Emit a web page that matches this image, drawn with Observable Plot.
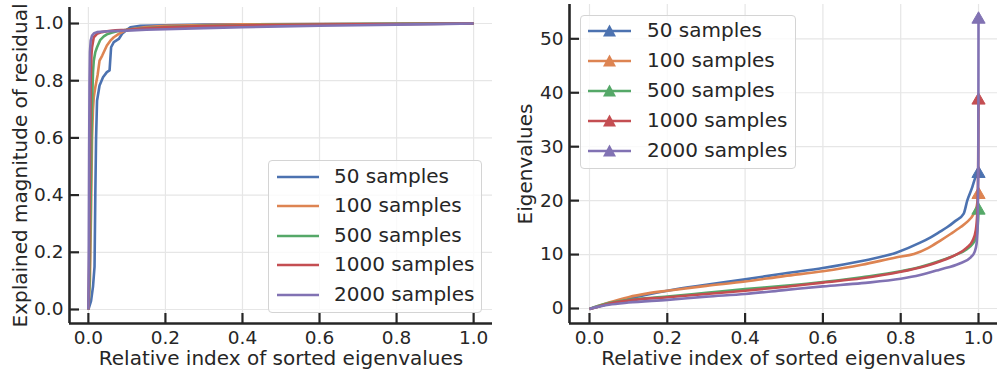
<!DOCTYPE html>
<html><head><meta charset="utf-8">
<script src="https://cdn.jsdelivr.net/npm/d3@7"></script>
<script src="https://cdn.jsdelivr.net/npm/@observablehq/plot@0.6"></script>
<style>
body{margin:0;background:#fff;}
#wrap{position:relative;width:997px;height:376px;overflow:hidden;font-family:"DejaVu Sans",sans-serif;color:#262626;background:#fff;}
.panel{position:absolute;top:0;}
.legend{position:absolute;background:rgba(255,255,255,0.8);border:1px solid #d4d4d4;border-radius:4px;box-sizing:border-box;}
.row{position:absolute;left:0;height:30px;width:100%;}
.row svg{position:absolute;top:0;}
.row span{position:absolute;top:0;height:30px;line-height:30px;font-size:20px;white-space:nowrap;}
</style></head>
<body>
<div id="wrap">
  <div class="panel" id="left" style="left:0;width:500px;"></div>
  <div class="panel" id="right" style="left:500px;width:497px;"></div>
  <div class="legend" id="legL" style="left:268px;top:160px;width:214px;height:153px;"></div>
  <div class="legend" id="legR" style="left:580px;top:15px;width:216px;height:154px;"></div>
</div>
<script>
// ---------- categories / colors ----------
const seriesNames = ["50 samples", "100 samples", "500 samples", "1000 samples", "2000 samples"];
const seriesColors = ["#4c72b0", "#dd8452", "#55a868", "#c44e52", "#8172b3"];

// ---------- tick labels ----------
const xTicks = [0, 0.2, 0.4, 0.6, 0.8, 1.0];
const resTicks = [0, 0.2, 0.4, 0.6, 0.8, 1.0];
const eigTicks = [0, 10, 20, 30, 40, 50];
const xLabel = "Relative index of sorted eigenvalues";
const resLabel = "Explained magnitude of residual";
const eigLabel = "Eigenvalues";

// ---------- left panel: explained magnitude of residual ----------
const resX50 = [0, 0.007, 0.012, 0.016, 0.018, 0.02, 0.0225, 0.029, 0.038, 0.048, 0.055, 0.059, 0.066, 0.079, 0.0875, 0.1, 0.109, 0.135, 0.2, 0.3, 0.4, 0.6, 0.8, 1.0];
const resY50 = [0, 0.03, 0.08, 0.15, 0.4, 0.6, 0.73, 0.783, 0.812, 0.83, 0.836, 0.917, 0.935, 0.946, 0.964, 0.978, 0.987, 0.992, 0.994, 0.996, 0.997, 0.998, 0.999, 1.0];
const resX100 = [0, 0.004, 0.007, 0.0095, 0.012, 0.014, 0.018, 0.024, 0.029, 0.036, 0.048, 0.057, 0.066, 0.079, 0.1, 0.15, 0.2, 0.3, 0.4, 0.6, 0.8, 1.0];
const resY100 = [0, 0.1, 0.35, 0.6, 0.7, 0.742, 0.777, 0.82, 0.87, 0.888, 0.923, 0.94, 0.952, 0.964, 0.978, 0.988, 0.992, 0.995, 0.997, 0.998, 0.999, 1.0];
const resX500 = [0, 0.003, 0.006, 0.009, 0.012, 0.014, 0.018, 0.0225, 0.031, 0.04, 0.048, 0.06, 0.074, 0.1, 0.15, 0.2, 0.3, 0.4, 0.6, 0.8, 1.0];
const resY500 = [0, 0.1, 0.4, 0.7, 0.83, 0.87, 0.9, 0.917, 0.943, 0.955, 0.962, 0.968, 0.973, 0.978, 0.984, 0.988, 0.992, 0.994, 0.997, 0.999, 1.0];
const resX1000 = [0, 0.002, 0.004, 0.006, 0.008, 0.0095, 0.014, 0.0225, 0.035, 0.048, 0.07, 0.1, 0.15, 0.2, 0.3, 0.4, 0.6, 0.8, 1.0];
const resY1000 = [0, 0.15, 0.5, 0.8, 0.89, 0.917, 0.952, 0.964, 0.97, 0.973, 0.976, 0.978, 0.983, 0.987, 0.991, 0.993, 0.996, 0.998, 1.0];
const resX2000 = [0, 0.001, 0.002, 0.003, 0.004, 0.006, 0.0095, 0.015, 0.0225, 0.05, 0.1, 0.15, 0.2, 0.3, 0.4, 0.5, 0.6, 0.7, 0.8, 0.9, 1.0];
const resY2000 = [0, 0.2, 0.55, 0.8, 0.9, 0.94, 0.958, 0.966, 0.97, 0.973, 0.975, 0.978, 0.98, 0.984, 0.987, 0.99, 0.992, 0.994, 0.996, 0.998, 1.0];

// ---------- right panel: eigenvalues ----------
const eigX50 = [0, 0.02, 0.05, 0.1, 0.15, 0.2, 0.3, 0.4, 0.5, 0.6, 0.7, 0.79, 0.85, 0.877, 0.9, 0.92, 0.94, 0.962, 0.971, 0.984, 0.992, 1.0];
const eigY50 = [-0.1, 0.3, 0.9, 1.8, 2.6, 3.3, 4.4, 5.4, 6.5, 7.5, 8.8, 10.4, 12.2, 13.2, 14.2, 15.1, 16.2, 17.6, 20.0, 22.5, 24.3, 25.0];
const eigX100 = [0, 0.02, 0.05, 0.1, 0.15, 0.2, 0.3, 0.4, 0.5, 0.6, 0.7, 0.79, 0.834, 0.87, 0.902, 0.93, 0.954, 0.97, 0.988, 0.995, 1.0];
const eigY100 = [-0.1, 0.4, 1.1, 2.1, 2.8, 3.3, 4.2, 5.0, 6.0, 6.9, 8.1, 9.5, 10.1, 11.2, 12.6, 13.9, 15.1, 16.0, 17.6, 18.8, 21.1];
const eigX500 = [0, 0.02, 0.05, 0.1, 0.2, 0.3, 0.4, 0.5, 0.6, 0.7, 0.8, 0.85, 0.9, 0.94, 0.97, 0.985, 0.993, 0.997, 0.999, 1.0];
const eigY500 = [-0.1, 0.4, 1.0, 1.6, 2.2, 2.9, 3.6, 4.2, 4.9, 5.8, 6.9, 7.7, 8.8, 9.9, 11.0, 12.0, 13.0, 14.5, 16.5, 18.2];
const eigX1000 = [0, 0.02, 0.05, 0.1, 0.2, 0.3, 0.4, 0.5, 0.6, 0.7, 0.8, 0.85, 0.9, 0.94, 0.97, 0.985, 0.993, 0.997, 0.999, 1.0];
const eigY1000 = [-0.1, 0.3, 0.9, 1.5, 2.1, 2.7, 3.3, 4.0, 4.8, 5.6, 6.8, 7.6, 8.7, 9.9, 11.3, 12.6, 14.5, 18.0, 25.0, 38.6];
const eigX2000 = [0, 0.02, 0.05, 0.1, 0.2, 0.3, 0.4, 0.5, 0.6, 0.7, 0.8, 0.85, 0.9, 0.95, 0.98, 0.99, 0.995, 0.998, 0.9995, 1.0];
const eigY2000 = [-0.1, 0.3, 0.7, 1.1, 1.6, 2.2, 2.7, 3.4, 4.1, 4.7, 5.5, 6.2, 7.2, 8.3, 9.5, 10.5, 12.0, 16.0, 28.0, 53.6];

// ---------- build tables ----------
function toRows(xs, ys, name) { return xs.map((x, i) => ({x, y: ys[i], series: name})); }
const resSeries = [[resX50, resY50], [resX100, resY100], [resX500, resY500], [resX1000, resY1000], [resX2000, resY2000]]
  .map(([xs, ys], i) => toRows(xs, ys, seriesNames[i]));
const eigSeries = [[eigX50, eigY50], [eigX100, eigY100], [eigX500, eigY500], [eigX1000, eigY1000], [eigX2000, eigY2000]]
  .map(([xs, ys], i) => toRows(xs, ys, seriesNames[i]));

const INK = "#262626", GRID = "#e6e6e6";

function makePanel(opts) {
  const {width, marginLeft, marginRight, marginTop, marginBottom, xDomain, yDomain, yTicks, yFormat, series, markers, curve, yLabel, yLabelDx} = opts;
  const marks = [
    Plot.gridX({ticks: xTicks, stroke: GRID, strokeOpacity: 1, strokeWidth: 1.2}),
    Plot.gridY({ticks: yTicks, stroke: GRID, strokeOpacity: 1, strokeWidth: 1.2})
  ];
  series.forEach((rows, i) => {
    marks.push(Plot.line(rows, {x: "x", y: "y", curve, stroke: seriesColors[i], strokeWidth: 2.6, strokeLinejoin: "round", strokeLinecap: "butt"}));
    if (markers) {
      marks.push(Plot.dot([rows[rows.length - 1]], {x: "x", y: "y", symbol: "triangle", r: 4.9, fill: seriesColors[i], stroke: seriesColors[i], strokeWidth: 1}));
    }
  });
  marks.push(
    Plot.ruleY([yDomain[0]], {stroke: INK, strokeWidth: 2.6}),
    Plot.ruleX([xDomain[0]], {stroke: INK, strokeWidth: 2.6}),
    Plot.axisX({ticks: xTicks, tickSize: 10, dy: -10, tickFormat: () => "", stroke: INK, strokeWidth: 2.2, label: null}),
    Plot.axisX({ticks: xTicks, tickSize: 0, tickPadding: 7, tickFormat: d3.format(".1f"), fill: INK, fontSize: 18.5, label: null}),
    Plot.axisY({ticks: yTicks, tickSize: 10, dx: 10, tickFormat: () => "", stroke: INK, strokeWidth: 2.2, label: null}),
    Plot.axisY({ticks: yTicks, tickSize: 0, tickPadding: 6, tickFormat: yFormat, fill: INK, fontSize: 18.5, label: null}),
    Plot.text([xLabel], {frameAnchor: "bottom", dy: 35, lineAnchor: "middle", textAnchor: "middle", fontSize: 20, fill: INK}),
    Plot.text([yLabel], {frameAnchor: "left", dx: yLabelDx, rotate: -90, lineAnchor: "middle", textAnchor: "middle", fontSize: 20, fill: INK})
  );
  return Plot.plot({
    width, height: 376, marginLeft, marginRight, marginTop, marginBottom,
    x: {domain: xDomain, axis: null},
    y: {domain: yDomain, axis: null},
    style: {fontFamily: "DejaVu Sans", fontSize: "18px", color: INK, background: "white", overflow: "visible"},
    marks
  });
}

document.getElementById("left").append(makePanel({
  width: 500, marginLeft: 69, marginRight: 8, marginTop: 7, marginBottom: 53,
  xDomain: [-0.049, 1.049], yDomain: [-0.049, 1.056],
  yTicks: resTicks, yFormat: d3.format(".1f"), series: resSeries, markers: false, curve: "linear",
  yLabel: resLabel, yLabelDx: -49
}));
document.getElementById("right").append(makePanel({
  width: 497, marginLeft: 69, marginRight: 0, marginTop: 4, marginBottom: 53,
  xDomain: [-0.0514, 1.0488], yDomain: [-2.78, 56.36],
  yTicks: eigTicks, yFormat: d3.format("d"), series: eigSeries, markers: true, curve: "monotone-x",
  yLabel: eigLabel, yLabelDx: -44
}));

// ---------- legends ----------
function buildLegend(el, rowTops, lineX, lineLen, textX, withMarker) {
  seriesNames.forEach((name, i) => {
    const row = document.createElement("div");
    row.className = "row";
    row.style.top = rowTops[i] + "px";
    const ns = "http://www.w3.org/2000/svg";
    const svg = document.createElementNS(ns, "svg");
    svg.setAttribute("width", lineLen + 4); svg.setAttribute("height", 30);
    svg.style.left = (lineX - 2) + "px";
    const ln = document.createElementNS(ns, "line");
    ln.setAttribute("x1", 2); ln.setAttribute("x2", 2 + lineLen);
    ln.setAttribute("y1", 15); ln.setAttribute("y2", 15);
    ln.setAttribute("stroke", seriesColors[i]); ln.setAttribute("stroke-width", 2.6);
    svg.append(ln);
    if (withMarker) {
      const tri = document.createElementNS(ns, "path");
      const cx = 2 + lineLen / 2, cy = 15;
      tri.setAttribute("d", `M${cx},${cy - 6.5}L${cx + 6.5},${cy + 5.5}L${cx - 6.5},${cy + 5.5}Z`);
      tri.setAttribute("fill", seriesColors[i]);
      svg.append(tri);
    }
    row.append(svg);
    const sp = document.createElement("span");
    sp.textContent = name;
    sp.style.left = textX + "px";
    sp.style.top = "-1px";
    row.append(sp);
    el.append(row);
  });
}
buildLegend(document.getElementById("legL"), [0.5, 30, 59.5, 89, 118.5], 8, 42, 65, false);
buildLegend(document.getElementById("legR"), [0, 30, 60, 90, 120], 7, 43, 66, true);
</script>
</body></html>
